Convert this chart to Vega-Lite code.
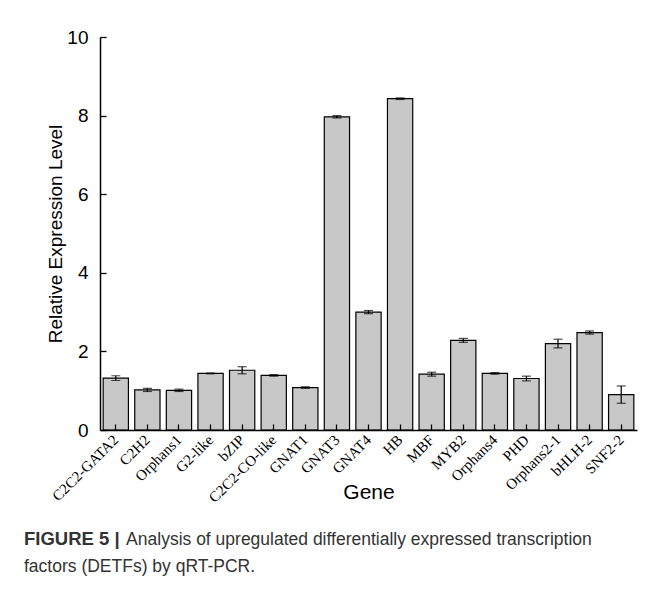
{
  "$schema": "https://vega.github.io/schema/vega-lite/v6.json",
  "autosize": {"type": "none"},
  "width": 537,
  "height": 393,
  "padding": {"left": 100, "top": 37, "right": 20, "bottom": 164},
  "background": "white",
  "config": {"view": {"stroke": null}},
  "title": {
    "text": "FIGURE 5 |",
    "subtitle": ["\u200b\u00a0\u00a0\u00a0\u00a0\u00a0\u00a0\u00a0\u00a0\u00a0\u00a0\u00a0\u00a0\u00a0\u00a0\u00a0\u00a0\u00a0\u00a0\u00a0\u00a0\u00a0Analysis of upregulated differentially expressed transcription", "factors (DETFs) by qRT-PCR."],
    "orient": "bottom",
    "anchor": "start",
    "frame": "group",
    "dx": -76,
    "offset": 25,
    "font": "Liberation Sans",
    "fontSize": 18.5,
    "fontWeight": "bold",
    "color": "#333333",
    "subtitleFont": "Liberation Sans",
    "subtitleFontSize": 17.5,
    "subtitleFontWeight": "normal",
    "subtitleColor": "#333333",
    "subtitlePadding": -18,
    "subtitleLineHeight": 27
  },
  "data": {
    "values": [
      {"gene": "C2C2-GATA2", "value": 1.32, "lo": 1.26, "hi": 1.38},
      {"gene": "C2H2", "value": 1.02, "lo": 0.98, "hi": 1.06},
      {"gene": "Orphans1", "value": 1.01, "lo": 0.98, "hi": 1.04},
      {"gene": "G2-like", "value": 1.44, "lo": 1.43, "hi": 1.45},
      {"gene": "bZIP", "value": 1.52, "lo": 1.43, "hi": 1.61},
      {"gene": "C2C2-CO-like", "value": 1.39, "lo": 1.37, "hi": 1.41},
      {"gene": "GNAT1", "value": 1.08, "lo": 1.06, "hi": 1.1},
      {"gene": "GNAT3", "value": 7.97, "lo": 7.94, "hi": 8.0},
      {"gene": "GNAT4", "value": 3.0, "lo": 2.96, "hi": 3.04},
      {"gene": "HB", "value": 8.43, "lo": 8.41, "hi": 8.45},
      {"gene": "MBF", "value": 1.42, "lo": 1.37, "hi": 1.47},
      {"gene": "MYB2", "value": 2.28, "lo": 2.23, "hi": 2.33},
      {"gene": "Orphans4", "value": 1.44, "lo": 1.42, "hi": 1.46},
      {"gene": "PHD", "value": 1.31, "lo": 1.25, "hi": 1.37},
      {"gene": "Orphans2-1", "value": 2.2, "lo": 2.09, "hi": 2.31},
      {"gene": "bHLH-2", "value": 2.48, "lo": 2.44, "hi": 2.52},
      {"gene": "SNF2-2", "value": 0.9, "lo": 0.68, "hi": 1.12}
    ]
  },
  "encoding": {
    "x": {
      "field": "gene",
      "type": "nominal",
      "sort": null,
      "scale": {"paddingInner": 0.2, "paddingOuter": 0.1},
      "axis": {
        "title": "Gene",
        "titleFont": "Liberation Sans",
        "titleFontSize": 21,
        "titleFontWeight": "normal",
        "titleColor": "black",
        "titleY": 62,
        "titleBaseline": "middle",
        "labelAngle": -45,
        "labelAlign": "right",
        "labelBaseline": "middle",
        "labelFont": "Liberation Serif",
        "labelFontSize": 15,
        "labelColor": "black",
        "labelPadding": 13,
        "labelLimit": 300,
        "labelOverlap": false,
        "tickSize": -6,
        "tickColor": "black",
        "tickWidth": 1.3,
        "domainColor": "black",
        "domainWidth": 1.5,
        "zindex": 1
      }
    }
  },
  "layer": [
    {
      "mark": {"type": "bar", "fill": "#c8c8c8", "stroke": "black", "strokeWidth": 1.2},
      "encoding": {
        "y": {
          "field": "value",
          "type": "quantitative",
          "scale": {"domain": [0, 10], "nice": false},
          "axis": {
            "title": "Relative Expression Level",
            "titleFont": "Liberation Sans",
            "titleFontSize": 19,
            "titleFontWeight": "normal",
            "titleColor": "black",
            "titleX": -45,
            "titleBaseline": "middle",
            "values": [0, 1, 2, 3, 4, 5, 6, 7, 8, 9, 10],
            "labelExpr": "datum.value % 2 === 0 ? datum.label : ''",
            "labelFont": "Liberation Sans",
            "labelFontSize": 19,
            "labelColor": "black",
            "labelPadding": 18,
            "tickSize": -6,
            "tickColor": "black",
            "tickWidth": 1.3,
            "domainColor": "black",
            "domainWidth": 1.5,
            "grid": false,
            "zindex": 1
          }
        }
      }
    },
    {
      "mark": {"type": "rule", "color": "black", "strokeWidth": 1.2},
      "encoding": {
        "y": {"field": "lo", "type": "quantitative"},
        "y2": {"field": "hi"}
      }
    },
    {
      "mark": {"type": "tick", "orient": "horizontal", "color": "black", "size": 9, "thickness": 1.2},
      "encoding": {"y": {"field": "lo", "type": "quantitative"}}
    },
    {
      "mark": {"type": "tick", "orient": "horizontal", "color": "black", "size": 9, "thickness": 1.2},
      "encoding": {"y": {"field": "hi", "type": "quantitative"}}
    }
  ]
}
